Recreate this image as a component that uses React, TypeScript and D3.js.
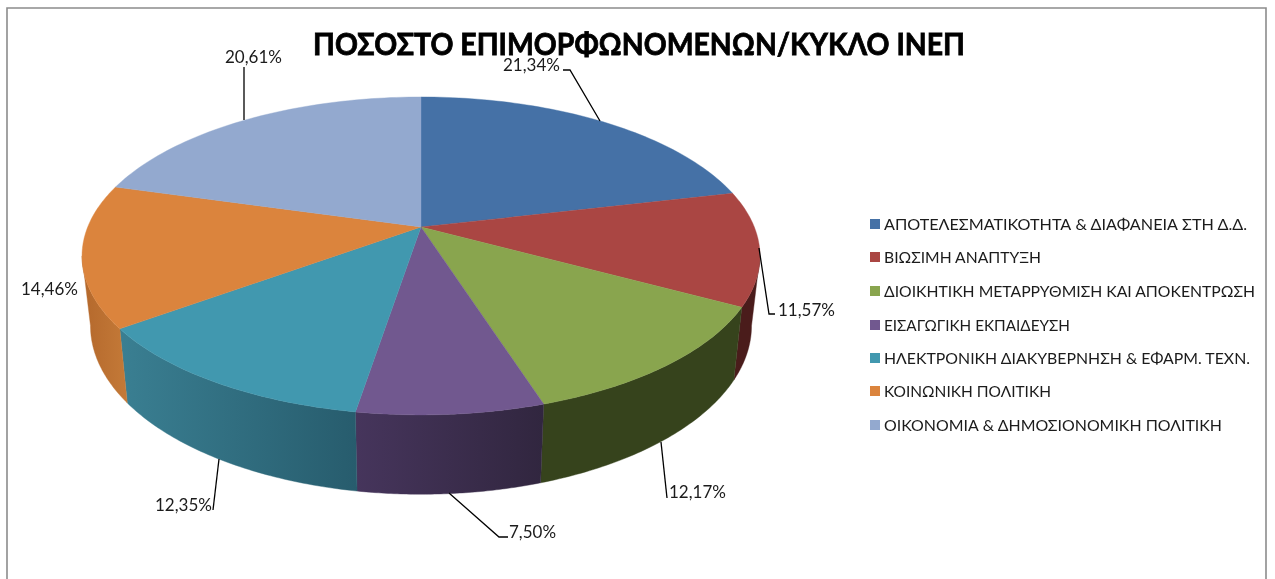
import React from "react";
import * as d3 from "d3";

const categories = [
  "ΑΠΟΤΕΛΕΣΜΑΤΙΚΟΤΗΤΑ & ΔΙΑΦΑΝΕΙΑ ΣΤΗ Δ.Δ.",
  "ΒΙΩΣΙΜΗ ΑΝΑΠΤΥΞΗ",
  "ΔΙΟΙΚΗΤΙΚΗ ΜΕΤΑΡΡΥΘΜΙΣΗ ΚΑΙ ΑΠΟΚΕΝΤΡΩΣΗ",
  "ΕΙΣΑΓΩΓΙΚΗ ΕΚΠΑΙΔΕΥΣΗ",
  "ΗΛΕΚΤΡΟΝΙΚΗ ΔΙΑΚΥΒΕΡΝΗΣΗ & ΕΦΑΡΜ. ΤΕΧΝ.",
  "ΚΟΙΝΩΝΙΚΗ ΠΟΛΙΤΙΚΗ",
  "ΟΙΚΟΝΟΜΙΑ & ΔΗΜΟΣΙΟΝΟΜΙΚΗ ΠΟΛΙΤΙΚΗ",
];
const values = [21.34, 11.57, 12.17, 7.5, 12.35, 14.46, 20.61];
const labels = ["21,34%", "11,57%", "12,17%", "7,50%", "12,35%", "14,46%", "20,61%"];
const title = "ΠΟΣΟΣΤΟ ΕΠΙΜΟΡΦΩΝΟΜΕΝΩΝ/ΚΥΚΛΟ ΙΝΕΠ";

const topColors = ["#4571A6", "#AA4643", "#89A54E", "#71588F", "#4198AF", "#DB843D", "#93A9CF"];
const sideLeft = ["#2a4466", "#4a1c1b", "#36431c", "#46355c", "#3a7f92", "#b4682c", "#5a6a85"];
const sideRight = ["#2a4466", "#4a1c1b", "#36431c", "#31263f", "#275c6d", "#c47a38", "#5a6a85"];

// label placement: [text x, baseline y, width]
const labelPos = [
  [503, 71, 57], [778, 316, 57], [669, 498, 57], [509, 538, 47], [155, 511, 57], [21, 295, 57], [225, 63, 57],
];
const leaders = [
  [[600, 121], [570, 70], [563, 70]],
  [[759, 248], [769, 314], [775, 314]],
  [[661, 442], [667, 498]],
  [[449, 493], [499, 537], [508, 537]],
  [[219, 459], [213, 510]],
  [],
  [[244, 120], [244, 67]],
];
const legendY = [224, 257, 291, 325, 358, 391, 425];
const legendW = [363, 157, 371, 186, 366, 167, 338];

// perspective projection of the pie disc
const K = -0.182;
const project = (a: number, cx: number, cy: number, rx: number, ry: number): [number, number] => {
  const x = Math.sin(a);
  const y = -Math.cos(a);
  const d = 1 + K * y;
  return [cx + (rx * x) / d, cy + (ry * y) / d];
};
const topDisc = (a: number) => project(a, 421, 227, 333.3, 153.7);
const baseDisc = (a: number) => project(a, 421, 295, 325, 163);

// the wall of the pie is visible only between the two silhouette angles
const sideStart = Math.acos(K);
const sideEnd = 2 * Math.PI - sideStart;

const arcs = d3.pie<number>().sort(null)(values);
const line = d3.line();

const sample = (a0: number, a1: number, f: (a: number) => [number, number]) =>
  d3.range(0, 61).map((i) => f(a0 + ((a1 - a0) * i) / 60));

const sans = "Lato, 'Open Sans', 'Noto Sans', sans-serif";

export default function App() {
  const walls = arcs
    .map((a, i) => ({ i, a0: Math.max(a.startAngle, sideStart), a1: Math.min(a.endAngle, sideEnd) }))
    .filter((w) => w.a1 > w.a0);
  return (
    <svg width={1275} height={579} style={{ position: "absolute", left: 0, top: 0, background: "#fff" }}>
      <defs>
        <filter id="soft" x="-5%" y="-20%" width="110%" height="140%">
          <feGaussianBlur stdDeviation={0.35} />
        </filter>
        {walls.map((w) => {
          const xs = [...sample(w.a0, w.a1, topDisc), ...sample(w.a0, w.a1, baseDisc)].map((p) => p[0]);
          const [x0, x1] = d3.extent(xs) as [number, number];
          return (
            <linearGradient key={w.i} id={`side${w.i}`} gradientUnits="userSpaceOnUse" x1={x0} x2={x1} y1={0} y2={0}>
              <stop offset="0" stopColor={sideLeft[w.i]} />
              <stop offset="1" stopColor={sideRight[w.i]} />
            </linearGradient>
          );
        })}
      </defs>
      <path d="M7 579V8H1266V579" fill="none" stroke="#8c8c8c" strokeWidth={1.6} />
      {walls.map((w) => {
        const t = sample(w.a0, w.a1, topDisc);
        const b = sample(w.a0, w.a1, baseDisc).reverse();
        return <path key={w.i} d={line([...t, ...b]) + "Z"} fill={`url(#side${w.i})`} stroke={`url(#side${w.i})`} strokeWidth={0.4} />;
      })}
      {arcs.map((a, i) => {
        const t = sample(a.startAngle, a.endAngle, topDisc);
        return <path key={i} d={line([[421, 227], ...t]) + "Z"} fill={topColors[i]} stroke={topColors[i]} strokeWidth={0.4} />;
      })}
      {leaders.map((pts, i) =>
        pts.length ? <path key={i} d={line(pts as [number, number][])!} fill="none" stroke="#000" strokeWidth={1.3} /> : null
      )}
      <g fontFamily={sans} fill="#1a1a1a" filter="url(#soft)">
        {labels.map((s, i) => (
          <text key={i} x={labelPos[i][0]} y={labelPos[i][1]} fontSize={17} textLength={labelPos[i][2]} lengthAdjust="spacingAndGlyphs">
            {s}
          </text>
        ))}
        {categories.map((c, i) => (
          <text key={i} x={884} y={legendY[i] + 6} fontSize={16} textLength={legendW[i]} lengthAdjust="spacingAndGlyphs">
            {c}
          </text>
        ))}
      </g>
      {categories.map((_, i) => (
        <rect key={i} x={870} y={legendY[i] - 5} width={10} height={10} fill={topColors[i]} />
      ))}
      <text x={313} y={55} fontFamily={sans} fontWeight={700} fontSize={30} fill="#000" stroke="#000" strokeWidth={0.8} textLength={652} lengthAdjust="spacingAndGlyphs" filter="url(#soft)">
        {title}
      </text>
    </svg>
  );
}
